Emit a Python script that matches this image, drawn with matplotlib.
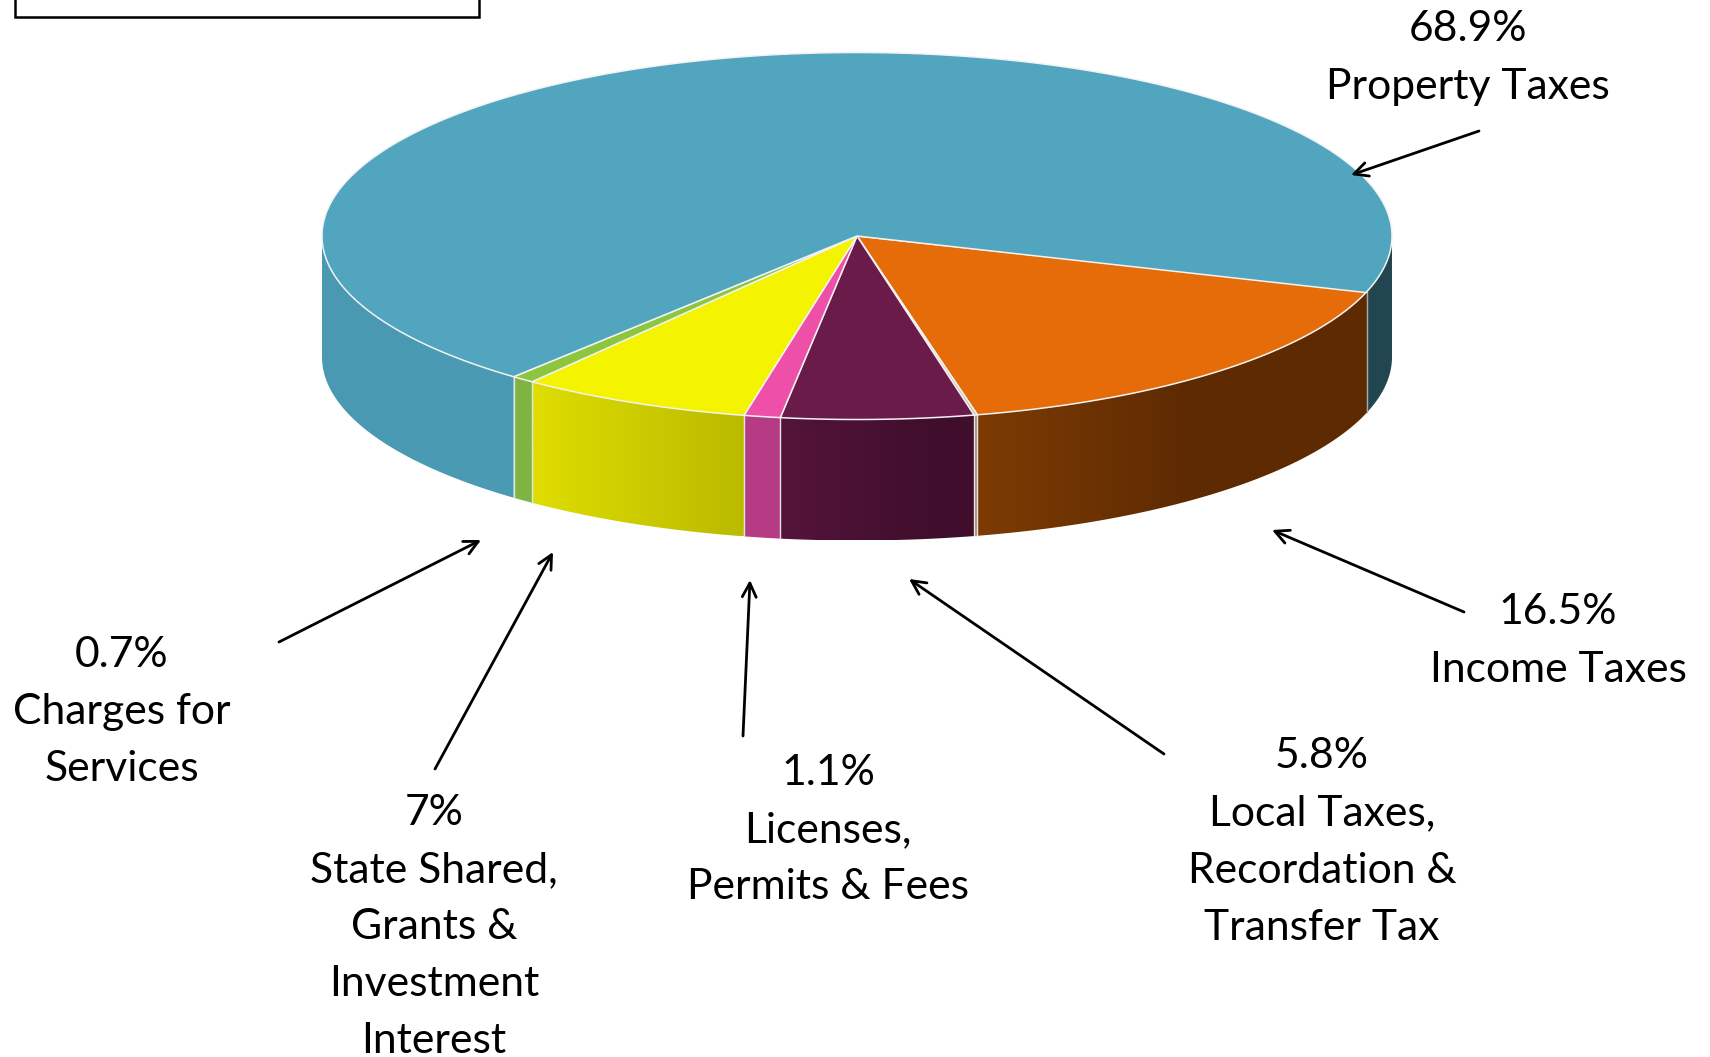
import numpy as np
import matplotlib
matplotlib.use('Agg')
from matplotlib import pyplot as plt
from matplotlib.colors import LinearSegmentedColormap
from matplotlib.patches import Polygon, Rectangle

#values, going clockwise from the income slice. the 0.1 is the thin unlabeled sliver
names = ['Income Taxes', '', 'Local Taxes,\nRecordation &\nTransfer Tax', 'Licenses,\nPermits & Fees',
         'State Shared,\nGrants &\nInvestment\nInterest', 'Charges for\nServices', 'Property Taxes']
values = [16.5, 0.1, 5.8, 1.1, 7, 0.7, 68.9]
pct_text = ['16.5%', '', '5.8%', '1.1%', '7%', '0.7%', '68.9%']

top_colors = ['#E66C09', '#C9B6A6', '#6A1B4A', '#EE4FA8', '#F4F400', '#8CC63F', '#52A5BE']
side_left = ['#7D3B03', '#A08A78', '#54143A', '#B53B84', '#DFDD00', '#7FB443', '#4A99B3']
side_right = ['#5E2A02', '#A08A78', '#400E2C', '#B53B84', '#BABA00', '#7FB443', '#4B9BB5']
#where along the wall the gradient is finished
grad_end = [0.55, 1, 0.8, 1, 1, 1, 1]
property_right_side = '#22464F'

#label centres and arrows, pixels
label_x = [1558, 0, 1322, 828, 434, 122, 1468]
label_y = [641, 0, 842, 830, 927, 712, 58]
arrow_from = [(1464, 612), None, (1164, 754), (743, 736), (435, 769), (279, 642), (1479, 131)]
arrow_to = [(1272, 530), None, (909, 579), (750, 580), (553, 552), (481, 540), (1351, 175)]

cx, cy = 857, 236
a, b = 535, 183.5
depth = 121
start_angle = -17.6

plt.rcParams['font.family'] = ['Lato', 'DejaVu Sans']

fig = plt.figure(figsize=(17.1, 10.57), dpi=100)
ax = fig.add_axes([0, 0, 1, 1])


def arc(t0, t1, dy=0):
    t = np.radians(np.linspace(t0, t1, 200))
    return np.column_stack((cx + a * np.cos(t), cy - b * np.sin(t) + dy))


#side wall with a left to right gradient, clipped to the wall shape
def side_wall(t0, t1, c_left, c_right, stop=1):
    pts = np.vstack((arc(t0, t1), arc(t1, t0, depth)))
    patch = Polygon(pts, closed=True, facecolor='none', edgecolor='none')
    ax.add_patch(patch)
    x0, x1 = pts[:, 0].min(), pts[:, 0].max()
    y0, y1 = pts[:, 1].min(), pts[:, 1].max()
    stops = [(0, c_left), (stop, c_right)]
    if stop < 1:
        stops.append((1, c_right))
    cmap = LinearSegmentedColormap.from_list('wall', stops)
    im = ax.imshow(np.linspace(0, 1, 256).reshape(1, -1), cmap=cmap, extent=(x0, x1, y1, y0),
                   aspect='auto', zorder=1)
    im.set_clip_path(patch)


angles = start_angle - np.cumsum([0] + [v * 3.6 for v in values])

for i in range(len(values)):
    t0, t1 = angles[i], angles[i + 1]
    #only the front half of the wall can be seen
    if t0 > -180 and t1 < 0:
        side_wall(min(t0, 0), max(t1, -180), side_left[i], side_right[i], grad_end[i])
    if i < len(values) - 1:
        ax.plot([cx + a * np.cos(np.radians(t1))] * 2,
                [cy - b * np.sin(np.radians(t1)), cy - b * np.sin(np.radians(t1)) + depth],
                color='#E4E4E4', lw=1, zorder=2)

#the piece of the big slice that comes back round on the right
side_wall(0, start_angle, property_right_side, property_right_side)
end_x = cx + a * np.cos(np.radians(start_angle))
end_y = cy - b * np.sin(np.radians(start_angle))
ax.plot([end_x, end_x], [end_y, end_y + depth], color='#A9A9A9', lw=1, zorder=2)

#top of the pie
for i in range(len(values)):
    pts = np.vstack(([[cx, cy]], arc(angles[i], angles[i + 1])))
    ax.add_patch(Polygon(pts, closed=True, facecolor=top_colors[i], edgecolor='#F2F2F2',
                         lw=1.1, zorder=3))

#labels and arrows
for i in range(len(values)):
    if names[i] == '':
        continue
    ax.text(label_x[i], label_y[i], pct_text[i] + '\n' + names[i], ha='center', va='center',
            fontsize=30.7, linespacing=1.62, color='black', zorder=5)
    ax.annotate('', xy=arrow_to[i], xytext=arrow_from[i],
                arrowprops=dict(arrowstyle='->,head_length=1.0,head_width=0.5', color='black',
                                lw=2, shrinkA=0, shrinkB=0), zorder=5)

#box cut off at the top of the picture
ax.add_patch(Rectangle((15, -20), 464, 36.5, facecolor='white', edgecolor='black', lw=1.8, zorder=5))

ax.set_xlim(0, 1710)
ax.set_ylim(1057, 0)
ax.axis('off')
fig.savefig('out.png', dpi=100)
